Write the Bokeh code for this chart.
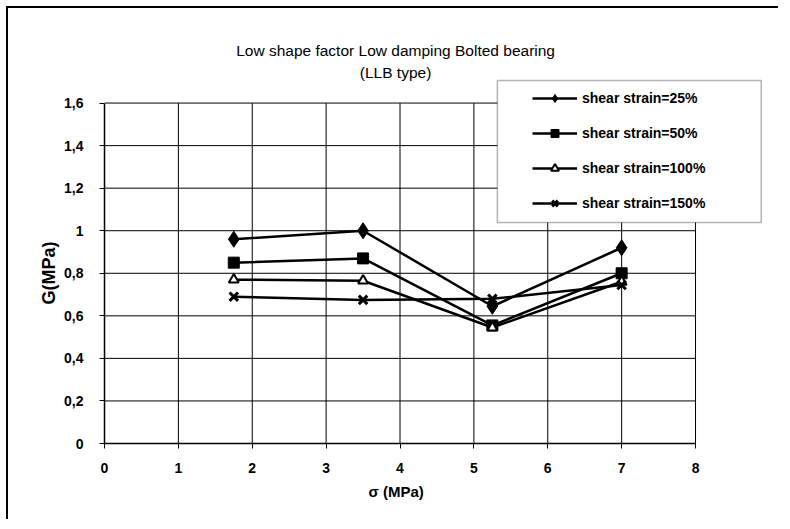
from bokeh.plotting import figure
from bokeh.models import (FixedTicker, Legend, LegendItem, BoxAnnotation, Label, Range1d, Title)
from bokeh.embed import file_html
from bokeh.resources import INLINE

# ---- data ----
sigma = [1.75, 3.5, 5.25, 7.0]
g_25 = [0.96, 1.00, 0.645, 0.92]
g_50 = [0.85, 0.87, 0.555, 0.80]
g_100 = [0.77, 0.765, 0.545, 0.76]
g_150 = [0.69, 0.675, 0.68, 0.745]
series_labels = ["shear strain=25%", "shear strain=50%", "shear strain=100%", "shear strain=150%"]
y_ticks = [0, 0.2, 0.4, 0.6, 0.8, 1.0, 1.2, 1.4, 1.6]
y_tick_labels = ["0", "0,2", "0,4", "0,6", "0,8", "1", "1,2", "1,4", "1,6"]
x_ticks = [0, 1, 2, 3, 4, 5, 6, 7, 8]
title_line1 = "Low shape factor Low damping Bolted bearing"
title_line2 = "(LLB type)"
x_title = "σ (MPa)"
y_title = "G(MPa)"
FONT = "Liberation Sans"

X_MAX, Y_MAX = x_ticks[-1], y_ticks[-1]

# frame is extended beyond the axes (right / top) so the legend and titles are not clipped
p = figure(width=772, height=513, output_backend="svg", toolbar_location=None,
           x_range=Range1d(0, 9.042), y_range=Range1d(0, 1.988),
           min_border_left=96, min_border_right=8, min_border_top=12, min_border_bottom=78,
           styles={"margin-left": "8px", "margin-top": "8px",
                   "box-shadow": "-2px -2px 0 0 #000"})
p.title.visible = False
p.background_fill_color = "white"
p.border_fill_color = "white"
p.outline_line_color = None
p.xgrid.visible = False
p.ygrid.visible = False

# grid lines drawn from the tick arrays, limited to the axes' extent
p.segment(x0=x_ticks[1:], y0=[0] * (len(x_ticks) - 1), x1=x_ticks[1:], y1=[Y_MAX] * (len(x_ticks) - 1),
          line_color="black", line_width=1)
p.segment(x0=[0] * (len(y_ticks) - 1), y0=y_ticks[1:], x1=[X_MAX] * (len(y_ticks) - 1), y1=y_ticks[1:],
          line_color="black", line_width=1)

# axes
p.xaxis.ticker = FixedTicker(ticks=x_ticks)
p.yaxis.ticker = FixedTicker(ticks=y_ticks)
p.xaxis.bounds = (0, X_MAX)
p.yaxis.bounds = (0, Y_MAX)
p.yaxis.major_label_overrides = {t: l for t, l in zip(y_ticks, y_tick_labels)}
for ax in (p.xaxis[0], p.yaxis[0]):
    ax.axis_line_color = "black"
    ax.axis_line_width = 1.5
    ax.major_tick_line_color = "black"
    ax.major_tick_out = 5
    ax.major_tick_in = 0
    ax.minor_tick_line_color = None
    ax.major_label_text_font = FONT
    ax.major_label_text_font_size = "14px"
    ax.major_label_text_font_style = "bold"
    ax.major_label_text_color = "black"
p.xaxis.major_label_standoff = 14
p.yaxis.major_label_standoff = 16

# axis titles (placed along the axes' own extent, not the extended frame)
p.add_layout(Title(text=x_title, align="left", offset=264, standoff=11, text_font=FONT,
                   text_font_size="15px", text_font_style="bold", text_color="black"), "below")
p.add_layout(Title(text=y_title, align="left", offset=139, standoff=6, text_font=FONT,
                   text_font_size="18px", text_font_style="bold", text_color="black"), "left")

# chart titles
p.add_layout(Label(x=3.94, y=1.847, text=title_line1, text_align="center", text_baseline="middle",
                   text_font=FONT, text_font_size="15.5px", text_color="black"))
p.add_layout(Label(x=3.94, y=1.743, text=title_line2, text_align="center", text_baseline="middle",
                   text_font=FONT, text_font_size="15.5px", text_color="black"))

# series
lw = 2.5
l1 = p.line(sigma, g_25, line_color="black", line_width=lw)
m1 = p.scatter(sigma, g_25, marker="diamond", size=16, fill_color="black", line_color="black")
l2 = p.line(sigma, g_50, line_color="black", line_width=lw)
m2 = p.scatter(sigma, g_50, marker="square", size=11, fill_color="black", line_color="black")
l3 = p.line(sigma, g_100, line_color="black", line_width=lw)
m3 = p.scatter(sigma, g_100, marker="triangle", size=10, fill_color="white", line_color="black", line_width=2)
l4 = p.line(sigma, g_150, line_color="black", line_width=lw)
m4 = p.scatter(sigma, g_150, marker="x", size=12, line_color="black", line_width=3)

# legend frame
box = BoxAnnotation(left=5.318, right=8.89, bottom=1.0385, top=1.706,
                    fill_color="white", fill_alpha=1.0, line_color="black", line_width=1.5)
p.add_layout(box)

legend = Legend(items=[
    LegendItem(label=series_labels[0], renderers=[l1, m1]),
    LegendItem(label=series_labels[1], renderers=[l2, m2]),
    LegendItem(label=series_labels[2], renderers=[l3, m3]),
    LegendItem(label=series_labels[3], renderers=[l4, m4]),
], location=(420, 222))
legend.border_line_alpha = 0
legend.background_fill_alpha = 0
legend.padding = 8
legend.spacing = 15
legend.margin = 0
legend.glyph_width = 45
legend.glyph_height = 20
legend.label_height = 20
legend.label_standoff = 5
legend.label_text_font = FONT
legend.label_text_font_size = "14px"
legend.label_text_font_style = "bold"
legend.label_text_color = "black"
p.add_layout(legend)

open("out.html", "w").write(file_html(p, INLINE))
